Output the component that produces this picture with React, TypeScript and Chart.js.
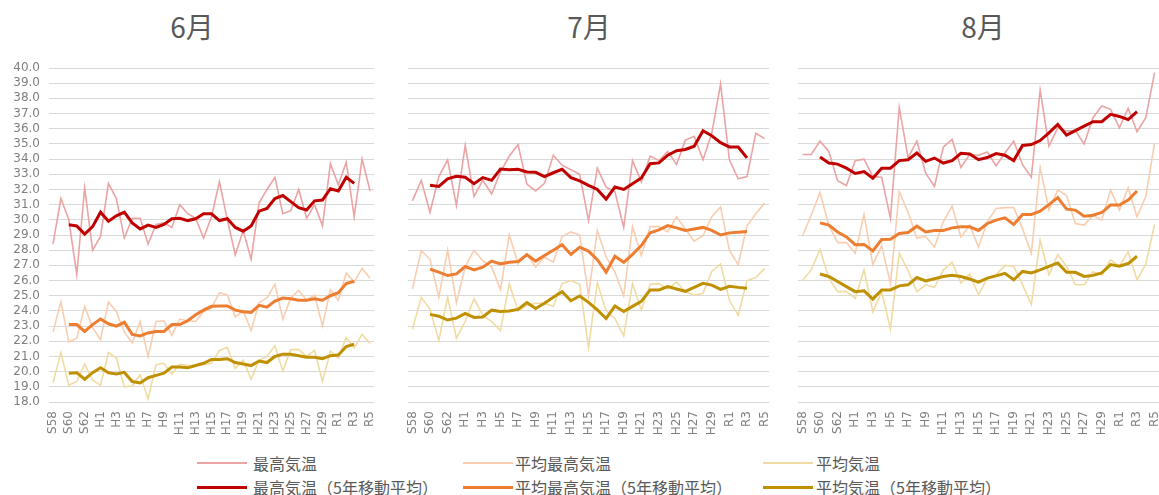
import React, { useEffect, useRef } from 'react';
import { Chart, registerables } from 'chart.js';
Chart.register(...registerables);

const years = ['S58','S59','S60','S61','S62','S63','H1','H2','H3','H4','H5','H6','H7','H8','H9','H10','H11','H12','H13','H14','H15','H16','H17','H18','H19','H20','H21','H22','H23','H24','H25','H26','H27','H28','H29','H30','R1','R2','R3','R4','R5'];

const seriesNames = ['最高気温', '平均最高気温', '平均気温', '最高気温（5年移動平均）', '平均最高気温（5年移動平均）', '平均気温（5年移動平均）'];
const monthTitles = ['6月', '7月', '8月'];

// 6月
const junMax = [28.4,31.4,30.0,26.4,32.1,28.0,28.9,32.4,31.4,28.8,30.1,30.1,28.4,29.7,29.8,29.5,31.0,30.4,30.1,28.8,30.2,32.5,30.0,27.7,29.3,27.4,31.1,32.0,32.8,30.4,30.6,32.0,30.1,31.0,29.6,33.7,32.3,33.8,30.2,34.0,31.9];
const junMaxMA = [29.67,29.6,29.06,29.55,30.5,29.9,30.26,30.5,29.8,29.4,29.65,29.5,29.7,30.07,30.1,29.95,30.07,30.4,30.4,29.95,30.07,29.5,29.25,29.6,30.57,30.75,31.4,31.6,31.2,30.8,30.65,31.25,31.3,32.05,31.9,32.8,32.4];
const junAvgMax = [22.6,24.6,21.95,22.2,24.3,22.9,22.1,24.6,23.95,22.6,21.9,23.3,21.0,23.3,23.35,22.4,23.45,23.35,23.3,23.95,24.2,25.2,25.05,23.6,24.0,22.7,24.55,24.85,25.75,23.45,24.85,25.35,24.7,25.05,23.0,25.4,24.7,26.5,25.9,26.8,26.15];
const junAvgMaxMA = [23.1,23.1,22.65,23.1,23.47,23.15,23.0,23.25,22.45,22.35,22.55,22.65,22.65,23.1,23.1,23.35,23.75,24.05,24.3,24.33,24.33,24.05,23.95,23.9,24.37,24.25,24.65,24.85,24.8,24.7,24.7,24.8,24.7,25.0,25.2,25.8,25.95];
const junAvg = [19.25,21.25,19.1,19.35,20.5,19.45,19.1,21.25,20.9,19.0,19.05,19.8,18.2,20.45,20.55,19.85,20.5,20.4,20.4,20.45,20.55,21.4,21.6,20.2,20.75,19.5,20.75,21.0,21.7,20.05,21.45,21.45,21.0,21.4,19.35,21.35,20.9,22.25,21.55,22.45,21.85];
const junAvgMA = [19.9,19.93,19.5,19.93,20.25,19.93,19.85,19.95,19.35,19.25,19.6,19.75,19.9,20.3,20.3,20.25,20.4,20.55,20.8,20.8,20.85,20.6,20.5,20.4,20.7,20.6,21.0,21.15,21.15,21.05,20.95,20.95,20.85,21.05,21.1,21.65,21.8];

// 7月
const julMax = [31.25,32.6,30.5,32.85,33.95,30.95,34.9,31.55,32.6,31.7,33.15,34.2,34.95,32.35,31.9,32.4,34.25,33.6,33.3,33.0,29.95,33.4,32.15,31.85,29.5,33.9,32.5,34.2,33.9,34.5,33.65,35.25,35.5,33.95,35.7,38.95,33.95,32.7,32.85,35.7,35.35];
const julMaxMA = [32.27,32.2,32.7,32.87,32.8,32.38,32.78,32.6,33.35,33.3,33.33,33.15,33.13,32.85,33.1,33.33,32.78,32.56,32.27,32.0,31.37,32.16,32.0,32.38,32.76,33.7,33.75,34.26,34.55,34.63,34.85,35.87,35.54,35.08,34.8,34.8,34.08];
const julAvgMax = [25.45,27.98,27.4,24.9,28.0,24.55,26.9,28.0,27.3,26.9,25.4,29.0,27.1,27.75,26.9,27.55,27.2,28.9,29.2,29.0,25.0,29.3,27.55,26.55,25.0,29.55,27.65,29.55,29.55,29.2,30.2,29.4,28.6,28.95,30.2,30.85,28.0,27.05,29.6,30.4,31.1];
const julAvgMaxMA = [26.75,26.55,26.33,26.44,26.92,26.7,26.88,27.28,27.1,27.2,27.25,27.7,27.28,27.65,28.0,28.36,27.72,28.2,27.94,27.37,26.55,27.6,27.2,27.72,28.3,29.15,29.34,29.62,29.47,29.3,29.4,29.5,29.3,29.0,29.14,29.18,29.23];
const julAvg = [22.77,24.9,24.1,22.05,24.9,22.2,23.3,24.8,23.7,23.3,22.7,25.8,24.0,24.35,24.5,24.5,24.3,25.8,26.0,25.75,21.6,25.85,24.0,23.5,22.35,25.8,24.05,25.75,25.8,25.45,25.9,25.25,25.05,25.15,26.6,27.1,24.7,23.7,26.0,26.2,26.8];
const julAvgMA = [23.77,23.65,23.4,23.52,23.83,23.57,23.6,24.05,23.96,24.0,24.1,24.55,24.16,24.5,24.9,25.27,24.67,24.98,24.56,24.07,23.5,24.32,23.96,24.3,24.63,25.38,25.38,25.6,25.44,25.29,25.55,25.82,25.7,25.42,25.62,25.55,25.5];

// 8月
const augMax = [34.3,34.3,35.18,34.5,32.57,32.26,33.9,34.0,32.85,32.8,30.1,37.4,34.1,35.18,33.07,32.2,34.78,35.29,33.45,34.3,34.25,34.47,33.56,34.4,35.18,33.63,32.8,38.54,34.85,36.06,35.84,35.88,35.0,36.73,37.5,37.28,36.06,37.35,35.8,36.73,39.7];
const augMaxMA = [34.14,33.74,33.67,33.4,33.05,33.18,32.74,33.4,33.4,33.9,33.96,34.4,33.85,34.07,33.74,33.9,34.38,34.34,33.96,34.1,34.36,34.25,33.9,34.9,34.96,35.22,35.73,36.28,35.58,35.88,36.17,36.46,36.46,36.95,36.81,36.6,37.12];
const augAvgMax = [28.92,30.3,31.8,29.65,28.5,28.5,27.8,30.35,27.05,28.3,25.8,31.85,30.5,28.8,28.9,28.2,29.87,30.9,28.87,29.65,28.2,29.87,30.75,30.8,30.8,29.42,27.8,33.45,30.64,31.97,31.6,29.76,29.65,30.3,29.98,31.97,30.64,32.1,30.2,31.53,35.07];
const augAvgMaxMA = [29.8,29.65,29.2,28.87,28.36,28.38,27.95,28.7,28.72,29.1,29.16,29.58,29.2,29.3,29.3,29.47,29.54,29.54,29.3,29.76,29.98,30.13,29.69,30.35,30.35,30.57,31.0,31.46,30.7,30.64,30.24,30.3,30.48,30.97,30.97,31.3,31.9];
const augAvg = [25.98,26.7,28.04,26.16,25.27,25.27,24.83,26.7,23.94,25.27,22.8,27.82,26.65,25.27,25.72,25.54,26.7,27.2,25.83,26.43,25.05,26.16,26.38,27.0,26.94,25.72,24.43,28.64,26.38,27.71,26.94,25.72,25.72,26.56,26.38,27.38,26.94,27.89,26.05,27.09,29.7];
const augAvgMA = [26.43,26.27,25.94,25.6,25.27,25.32,24.78,25.38,25.38,25.65,25.72,26.2,25.98,26.12,26.27,26.34,26.27,26.1,25.9,26.16,26.31,26.47,26.05,26.6,26.5,26.7,26.94,27.16,26.54,26.54,26.27,26.34,26.5,27.05,26.94,27.12,27.6];

const COLORS = ['#EBA3A3', '#F9CDB0', '#F0DBA2', '#C00000', '#ED7D31', '#BF9000'];
const WIDTHS = [1.6, 1.6, 1.6, 3, 3, 3];
const GRID = '#D9D9D9';
const TEXT = '#7F7F7F';
const TICK_FONT = { family: '"DejaVu Sans", sans-serif', size: 12 };

const maPad = (arr: number[]) => [null, null, ...arr, null, null];

const monthData = [
  [junMax, junAvgMax, junAvg, maPad(junMaxMA), maPad(junAvgMaxMA), maPad(junAvgMA)],
  [julMax, julAvgMax, julAvg, maPad(julMaxMA), maPad(julAvgMaxMA), maPad(julAvgMA)],
  [augMax, augAvgMax, augAvg, maPad(augMaxMA), maPad(augAvgMaxMA), maPad(augAvgMA)],
];

const panelLayout = [
  { left: 0, width: 380, padL: 0, padR: 6, yWidth: 49, showY: true, titleX: 192 },
  { left: 400, width: 380, padL: 8, padR: 11, yWidth: 0, showY: false, titleX: 589 },
  { left: 790, width: 369, padL: 8, padR: 0, yWidth: 0, showY: false, titleX: 983 },
];

const CANVAS_H = 440;

function Panel({ index }: { index: number }) {
  const ref = useRef<HTMLCanvasElement>(null);
  const lay = panelLayout[index];
  useEffect(() => {
    if (!ref.current) return;
    const data = monthData[index];
    const datasets = [3, 4, 5, 0, 1, 2].map((k, j) => ({
      label: seriesNames[k],
      data: data[k],
      borderColor: COLORS[k],
      backgroundColor: COLORS[k],
      borderWidth: WIDTHS[k],
      pointRadius: 0,
      tension: 0,
      fill: false,
      spanGaps: false,
      order: j,
    }));
    const chart = new Chart(ref.current, {
      type: 'line',
      data: { labels: years, datasets: datasets as any },
      options: {
        responsive: false,
        maintainAspectRatio: false,
        animation: false,
        devicePixelRatio: 1,
        layout: { padding: { top: 68, right: lay.padR, left: lay.padL, bottom: 0 } },
        plugins: { legend: { display: false }, tooltip: { enabled: false }, title: { display: false } },
        scales: {
          x: {
            offset: true,
            grid: { display: false, drawTicks: false },
            border: { display: false },
            ticks: {
              autoSkip: false,
              minRotation: 90,
              maxRotation: 90,
              padding: 9,
              color: TEXT,
              font: TICK_FONT,
              callback: (_v: any, i: number) => (i % 2 === 0 ? years[i] : ''),
            },
            afterFit: (s: any) => {
              s.height = CANVAS_H - 402;
              s.paddingLeft = 0;
              s.paddingRight = 0;
            },
          },
          y: {
            min: 18,
            max: 40,
            grid: { color: GRID, lineWidth: 1, drawTicks: false },
            border: { display: false },
            ticks: {
              display: lay.showY,
              stepSize: 1,
              autoSkip: false,
              padding: 9,
              color: TEXT,
              font: TICK_FONT,
              callback: (v: any) => Number(v).toFixed(1),
            },
            afterFit: (s: any) => {
              s.width = lay.yWidth;
              s.paddingTop = 0;
              s.paddingBottom = 0;
            },
          },
        },
      } as any,
    });
    return () => chart.destroy();
  }, [index]);
  return (
    <canvas
      ref={ref}
      width={lay.width}
      height={CANVAS_H}
      style={{ position: 'absolute', left: lay.left, top: 0, width: lay.width, height: CANVAS_H }}
    />
  );
}

const legendCols = [
  { lineX: 197, textX: 253 },
  { lineX: 463, textX: 515 },
  { lineX: 763, textX: 816 },
];
const legendRows = [463, 487];

export default function App() {
  const font = '"Noto Sans CJK JP", "Noto Sans", sans-serif';
  return (
    <div style={{ position: 'fixed', left: 0, top: 0, width: 1159, height: 495, background: '#fff', overflow: 'hidden' }}>
      {panelLayout.map((lay, i) => (
        <div
          key={'t' + i}
          style={{
            position: 'absolute',
            left: lay.titleX - 60,
            width: 120,
            top: 7,
            textAlign: 'center',
            fontFamily: font,
            fontSize: 28,
            lineHeight: '38px',
            color: '#595959',
          }}
        >
          {monthTitles[i]}
        </div>
      ))}
      {panelLayout.map((_l, i) => (
        <Panel key={'p' + i} index={i} />
      ))}
      {seriesNames.map((name, k) => {
        const col = legendCols[k % 3];
        const y = legendRows[Math.floor(k / 3)];
        const h = k < 3 ? 2 : 3;
        return (
          <React.Fragment key={'l' + k}>
            <div
              style={{
                position: 'absolute',
                left: col.lineX,
                top: y - h / 2,
                width: 50,
                height: h,
                background: COLORS[k],
              }}
            />
            <div
              style={{
                position: 'absolute',
                left: col.textX,
                top: y - 12,
                height: 24,
                lineHeight: '24px',
                fontFamily: font,
                fontSize: 16,
                color: '#595959',
                whiteSpace: 'nowrap',
              }}
            >
              {name}
            </div>
          </React.Fragment>
        );
      })}
    </div>
  );
}
